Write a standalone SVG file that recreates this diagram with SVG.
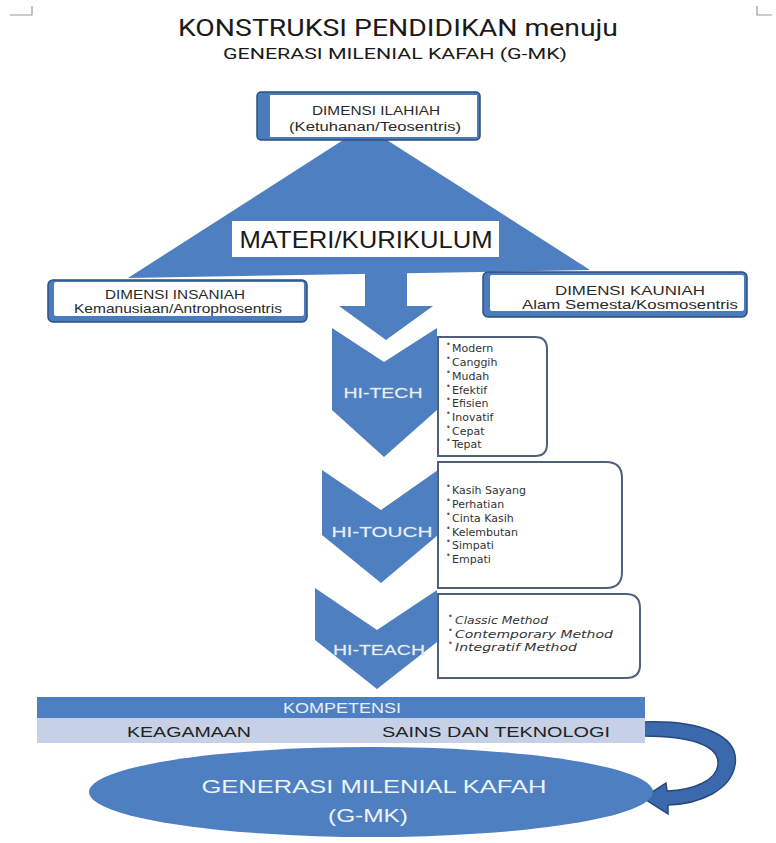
<svg xmlns="http://www.w3.org/2000/svg" width="776" height="843" viewBox="0 0 776 843">
<style>
.t{font-family:"Liberation Sans",Arial,sans-serif}
.ttl{font-family:Roboto,"Liberation Sans",sans-serif;fill:#1a1a1a}
.blue{fill:#4e7fc0}
.dimo{fill:#4a7bbd;stroke:#2c4f80;stroke-width:1.5}
.dimi{fill:#ffffff}
.dimt{font-family:"Liberation Sans",Arial,sans-serif;font-size:12.5px;fill:#2a2a2a;text-anchor:middle}
.lbox{fill:#ffffff;stroke:#4f5f7c;stroke-width:2}
.li{font-family:"DejaVu Sans",Verdana,sans-serif;font-size:11px;fill:#333}
.bul{font-family:"DejaVu Sans",sans-serif;font-size:8px;fill:#555}
.chv{font-family:"Liberation Sans",Arial,sans-serif;font-size:15px;fill:#e9eff8;stroke:#b4c5df;stroke-width:0.3;paint-order:stroke;text-anchor:middle}
.bar{font-family:"Liberation Sans",Arial,sans-serif;font-size:14.5px;text-anchor:middle}
</style>
<rect width="776" height="843" fill="#ffffff"/>
<g id="corners" stroke="#9a9a9a" stroke-width="1.2" fill="none">
<path d="M10 15 H32 V6"/>
<path d="M757 6 V15 H772"/>
</g>
<g id="title">
<text class="ttl" x="398" y="36" font-size="23" text-anchor="middle" textLength="440" lengthAdjust="spacingAndGlyphs">KONSTRUKSI PENDIDIKAN menuju</text>
<text class="ttl" x="395" y="59" font-size="15.5" text-anchor="middle" fill="#333" textLength="344" lengthAdjust="spacingAndGlyphs">GENERASI MILENIAL KAFAH (G-MK)</text>
</g>
<g id="connectors">
<polygon id="triangle" class="blue" points="365,126 128,278 590,270"/>
<polygon id="down-arrow" class="blue" points="365,270 407,270 407,306 433,306 386,340 339,306 365,306"/>
<path id="curved-arrow" d="M643 722 C700 720 740 735 735 765 C731 790 700 804 668 805 L668 814 L643 798 L666 783 L667 791 C695 790 716 780 718 765 C720 745 690 736 643 736 Z" fill="#3a6aad" stroke="#27487a" stroke-width="1.5"/>
</g>
<g id="materi">
<rect x="232" y="221" width="267" height="36" fill="#ffffff"/>
<text class="t" x="366" y="248" font-size="24" text-anchor="middle" fill="#1a1a1a" textLength="253" lengthAdjust="spacingAndGlyphs">MATERI/KURIKULUM</text>
</g>
<g id="dimensi-ilahiah">
<rect class="dimo" x="257" y="92" width="223" height="48" rx="4"/>
<rect class="dimi" x="270" y="95" width="207" height="42"/>
<text class="dimt" x="376" y="115" textLength="128" lengthAdjust="spacingAndGlyphs">DIMENSI ILAHIAH</text>
<text class="dimt" x="375" y="131" textLength="172" lengthAdjust="spacingAndGlyphs">(Ketuhanan/Teosentris)</text>
</g>
<g id="dimensi-insaniah">
<rect class="dimo" x="48" y="280" width="259" height="42" rx="5"/>
<rect class="dimi" x="54" y="282" width="250" height="34" rx="2"/>
<text class="dimt" x="175" y="299" textLength="140" lengthAdjust="spacingAndGlyphs">DIMENSI INSANIAH</text>
<text class="dimt" x="178" y="313" textLength="208" lengthAdjust="spacingAndGlyphs">Kemanusiaan/Antrophosentris</text>
</g>
<g id="dimensi-kauniah">
<rect class="dimo" x="483" y="272" width="264" height="45" rx="5"/>
<rect class="dimi" x="490" y="275" width="254" height="36" rx="2"/>
<text class="dimt" x="630" y="295" textLength="150" lengthAdjust="spacingAndGlyphs">DIMENSI KAUNIAH</text>
<text class="dimt" x="630" y="309" textLength="216" lengthAdjust="spacingAndGlyphs">Alam Semesta/Kosmosentris</text>
</g>
<g id="hi-tech">
<polygon class="blue" points="332,328 384,362 437,328 437,410 384,457 332,410"/>
<text class="chv" x="383" y="398" textLength="79" lengthAdjust="spacingAndGlyphs">HI-TECH</text>
</g>
<g id="hi-tech-list">
<path class="lbox" d="M438 337 H535 Q547 337 547 349 V444 Q547 456 535 456 H438 Z"/>
<g class="li">
<text x="452" y="352">Modern</text>
<text x="452" y="366">Canggih</text>
<text x="452" y="380">Mudah</text>
<text x="452" y="394">Efektif</text>
<text x="452" y="407">Efisien</text>
<text x="452" y="421">Inovatif</text>
<text x="452" y="435">Cepat</text>
<text x="452" y="448">Tepat</text>
</g>
<g class="bul">
<text x="446" y="347">•</text><text x="446" y="361">•</text><text x="446" y="375">•</text><text x="446" y="389">•</text>
<text x="446" y="402">•</text><text x="446" y="416">•</text><text x="446" y="430">•</text><text x="446" y="443">•</text>
</g>
</g>
<g id="hi-touch">
<polygon class="blue" points="322,470 381,510 438,470 438,535 381,583 322,535"/>
<text class="chv" x="382" y="537" textLength="101" lengthAdjust="spacingAndGlyphs">HI-TOUCH</text>
</g>
<g id="hi-touch-list">
<path class="lbox" d="M438 462 H606 Q622 462 622 478 V572 Q622 588 606 588 H438 Z"/>
<g class="li">
<text x="452" y="494">Kasih Sayang</text>
<text x="452" y="508">Perhatian</text>
<text x="452" y="522">Cinta Kasih</text>
<text x="452" y="536">Kelembutan</text>
<text x="452" y="549">Simpati</text>
<text x="452" y="563">Empati</text>
</g>
<g class="bul">
<text x="446" y="489">•</text><text x="446" y="503">•</text><text x="446" y="517">•</text>
<text x="446" y="531">•</text><text x="446" y="544">•</text><text x="446" y="558">•</text>
</g>
</g>
<g id="hi-teach">
<polygon class="blue" points="315,588 377,630 437,590 437,642 377,689 315,640"/>
<text class="chv" x="379" y="655" textLength="92" lengthAdjust="spacingAndGlyphs">HI-TEACH</text>
</g>
<g id="hi-teach-list">
<path class="lbox" d="M438 594 H626 Q640 594 640 608 V665 Q640 678 626 678 H438 Z"/>
<g class="li" font-style="italic">
<text x="455" y="624" textLength="93" lengthAdjust="spacingAndGlyphs">Classic Method</text>
<text x="455" y="638" textLength="158" lengthAdjust="spacingAndGlyphs">Contemporary Method</text>
<text x="455" y="651" textLength="122" lengthAdjust="spacingAndGlyphs">Integratif Method</text>
</g>
<g class="bul">
<text x="448" y="619">•</text><text x="448" y="633">•</text><text x="448" y="646">•</text>
</g>
</g>
<g id="kompetensi">
<rect x="37" y="697" width="608" height="21" class="blue"/>
<rect x="37" y="718" width="608" height="25" fill="#c6d1e7"/>
<text class="bar" x="342" y="713" fill="#e8eef8" textLength="118" lengthAdjust="spacingAndGlyphs">KOMPETENSI</text>
<text class="bar" x="189" y="737" fill="#222" textLength="124" lengthAdjust="spacingAndGlyphs">KEAGAMAAN</text>
<text class="bar" x="496" y="737" fill="#222" textLength="228" lengthAdjust="spacingAndGlyphs">SAINS DAN TEKNOLOGI</text>
</g>
<g id="gmk">
<ellipse cx="371" cy="792" rx="282" ry="45" class="blue"/>
<text class="t" x="374" y="793" font-size="19" text-anchor="middle" fill="#eef3fa" textLength="345" lengthAdjust="spacingAndGlyphs">GENERASI MILENIAL KAFAH</text>
<text class="t" x="368" y="822" font-size="19" text-anchor="middle" fill="#eef3fa" textLength="80" lengthAdjust="spacingAndGlyphs">(G-MK)</text>
</g>
</svg>
